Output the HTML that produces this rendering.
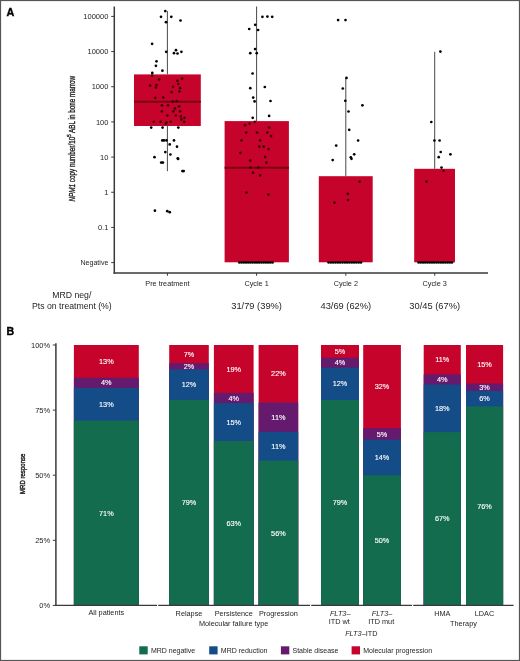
<!DOCTYPE html>
<html><head><meta charset="utf-8"><title>Figure</title>
<style>
html,body{margin:0;padding:0;background:#fff;}
body{width:520px;height:661px;overflow:hidden;position:relative;}
svg{position:absolute;left:0;top:0;display:block;will-change:transform;}
text{font-family:"Liberation Sans", sans-serif;}
</style></head><body>
<svg width="520" height="661" viewBox="0 0 520 661">
<rect x="0" y="0" width="520" height="661" fill="#fff"/>

<text x="6.4" y="15.8" font-size="10.8" font-weight="bold" fill="#000" stroke="#000" stroke-width="0.35">A</text>
<text transform="translate(74.8,201.5) rotate(-90)" font-size="8.8" fill="#1e1e1e" stroke="#1e1e1e" stroke-width="0.35" textLength="125.6" lengthAdjust="spacingAndGlyphs"><tspan font-style="italic">NPM1</tspan> copy number/10<tspan font-size="6" dy="-3.6">5</tspan><tspan dy="3.6"> ABL in bone marrow</tspan></text>
<line x1="111.2" y1="16.40" x2="114.3" y2="16.40" stroke="#3a3a3a" stroke-width="1"/>
<text x="108.4" y="19.10" font-size="7.5" fill="#1e1e1e" text-anchor="end">100000</text>
<line x1="111.2" y1="51.57" x2="114.3" y2="51.57" stroke="#3a3a3a" stroke-width="1"/>
<text x="108.4" y="54.27" font-size="7.5" fill="#1e1e1e" text-anchor="end">10000</text>
<line x1="111.2" y1="86.74" x2="114.3" y2="86.74" stroke="#3a3a3a" stroke-width="1"/>
<text x="108.4" y="89.44" font-size="7.5" fill="#1e1e1e" text-anchor="end">1000</text>
<line x1="111.2" y1="121.91" x2="114.3" y2="121.91" stroke="#3a3a3a" stroke-width="1"/>
<text x="108.4" y="124.61" font-size="7.5" fill="#1e1e1e" text-anchor="end">100</text>
<line x1="111.2" y1="157.08" x2="114.3" y2="157.08" stroke="#3a3a3a" stroke-width="1"/>
<text x="108.4" y="159.78" font-size="7.5" fill="#1e1e1e" text-anchor="end">10</text>
<line x1="111.2" y1="192.25" x2="114.3" y2="192.25" stroke="#3a3a3a" stroke-width="1"/>
<text x="108.4" y="194.95" font-size="7.5" fill="#1e1e1e" text-anchor="end">1</text>
<line x1="111.2" y1="227.42" x2="114.3" y2="227.42" stroke="#3a3a3a" stroke-width="1"/>
<text x="108.4" y="230.12" font-size="7.5" fill="#1e1e1e" text-anchor="end">0.1</text>
<line x1="111.2" y1="262.59" x2="114.3" y2="262.59" stroke="#3a3a3a" stroke-width="1"/>
<text x="108.4" y="265.29" font-size="7.1" fill="#1e1e1e" text-anchor="end">Negative</text>
<line x1="167.4" y1="11.0" x2="167.4" y2="74.4" stroke="#333" stroke-width="0.9"/>
<line x1="167.4" y1="126.0" x2="167.4" y2="171.2" stroke="#333" stroke-width="0.9"/>
<line x1="256.6" y1="6.5" x2="256.6" y2="121.1" stroke="#333" stroke-width="0.9"/>
<line x1="345.8" y1="77.8" x2="345.8" y2="176.2" stroke="#333" stroke-width="0.9"/>
<line x1="434.7" y1="51.8" x2="434.7" y2="168.8" stroke="#333" stroke-width="0.9"/>
<rect x="134.0" y="74.4" width="66.80" height="51.60" fill="#c6042b"/>
<line x1="134.0" y1="101.8" x2="200.8" y2="101.8" stroke="#7a0012" stroke-width="1.9"/>
<rect x="224.6" y="121.1" width="64.30" height="141.20" fill="#c6042b"/>
<line x1="224.6" y1="167.7" x2="288.9" y2="167.7" stroke="#7a0012" stroke-width="1.9"/>
<rect x="318.8" y="176.2" width="53.90" height="86.10" fill="#c6042b"/>
<rect x="414.2" y="168.8" width="40.80" height="93.50" fill="#c6042b"/>
<g fill="#000">
<circle cx="165.3" cy="11.1" r="1.35"/>
<circle cx="161" cy="16.8" r="1.35"/>
<circle cx="171.3" cy="16.8" r="1.35"/>
<circle cx="166" cy="22.2" r="1.35"/>
<circle cx="180.5" cy="20.5" r="1.35"/>
<circle cx="152.1" cy="43.8" r="1.35"/>
<circle cx="166.2" cy="51.8" r="1.35"/>
<circle cx="176" cy="50.2" r="1.35"/>
<circle cx="174" cy="53.2" r="1.35"/>
<circle cx="177.5" cy="53.5" r="1.35"/>
<circle cx="181.4" cy="51.8" r="1.35"/>
<circle cx="156.5" cy="61.3" r="1.35"/>
<circle cx="155.9" cy="65.8" r="1.35"/>
<circle cx="162.4" cy="70.7" r="1.35"/>
<circle cx="152.3" cy="72.9" r="1.35"/>
<circle cx="152.1" cy="75.7" r="1.35" fill="#2a0008" fill-opacity="0.85"/>
<circle cx="159.2" cy="79.4" r="1.35" fill="#2a0008" fill-opacity="0.85"/>
<circle cx="182.1" cy="78.7" r="1.35" fill="#2a0008" fill-opacity="0.85"/>
<circle cx="177.4" cy="80.8" r="1.35" fill="#2a0008" fill-opacity="0.85"/>
<circle cx="178.3" cy="84.1" r="1.35" fill="#2a0008" fill-opacity="0.85"/>
<circle cx="150.1" cy="85.5" r="1.35" fill="#2a0008" fill-opacity="0.85"/>
<circle cx="156.5" cy="85.1" r="1.35" fill="#2a0008" fill-opacity="0.85"/>
<circle cx="155.9" cy="87.5" r="1.35" fill="#2a0008" fill-opacity="0.85"/>
<circle cx="173.1" cy="86.8" r="1.35" fill="#2a0008" fill-opacity="0.85"/>
<circle cx="180.1" cy="88.2" r="1.35" fill="#2a0008" fill-opacity="0.85"/>
<circle cx="179.4" cy="91.5" r="1.35" fill="#2a0008" fill-opacity="0.85"/>
<circle cx="171.6" cy="92.2" r="1.35" fill="#2a0008" fill-opacity="0.85"/>
<circle cx="155.2" cy="97.9" r="1.35" fill="#2a0008" fill-opacity="0.85"/>
<circle cx="163.3" cy="97.6" r="1.35" fill="#2a0008" fill-opacity="0.85"/>
<circle cx="172.7" cy="101.6" r="1.35" fill="#2a0008" fill-opacity="0.85"/>
<circle cx="176.7" cy="101.2" r="1.35" fill="#2a0008" fill-opacity="0.85"/>
<circle cx="161.9" cy="105.3" r="1.35" fill="#2a0008" fill-opacity="0.85"/>
<circle cx="168" cy="105.3" r="1.35" fill="#2a0008" fill-opacity="0.85"/>
<circle cx="179.1" cy="106.3" r="1.35" fill="#2a0008" fill-opacity="0.85"/>
<circle cx="175" cy="108.4" r="1.35" fill="#2a0008" fill-opacity="0.85"/>
<circle cx="161.9" cy="111.3" r="1.35" fill="#2a0008" fill-opacity="0.85"/>
<circle cx="173.4" cy="111.3" r="1.35" fill="#2a0008" fill-opacity="0.85"/>
<circle cx="180.1" cy="111.3" r="1.35" fill="#2a0008" fill-opacity="0.85"/>
<circle cx="167.3" cy="115.5" r="1.35" fill="#2a0008" fill-opacity="0.85"/>
<circle cx="175.8" cy="115.5" r="1.35" fill="#2a0008" fill-opacity="0.85"/>
<circle cx="180.8" cy="116.4" r="1.35" fill="#2a0008" fill-opacity="0.85"/>
<circle cx="184.5" cy="117.8" r="1.35" fill="#2a0008" fill-opacity="0.85"/>
<circle cx="181.4" cy="119.4" r="1.35" fill="#2a0008" fill-opacity="0.85"/>
<circle cx="153.8" cy="121.8" r="1.35" fill="#2a0008" fill-opacity="0.85"/>
<circle cx="160.6" cy="121.8" r="1.35" fill="#2a0008" fill-opacity="0.85"/>
<circle cx="166.6" cy="122.5" r="1.35" fill="#2a0008" fill-opacity="0.85"/>
<circle cx="165.7" cy="123.8" r="1.35" fill="#2a0008" fill-opacity="0.85"/>
<circle cx="170.7" cy="121.8" r="1.35" fill="#2a0008" fill-opacity="0.85"/>
<circle cx="184.1" cy="121.8" r="1.35" fill="#2a0008" fill-opacity="0.85"/>
<circle cx="151.2" cy="127.6" r="1.35"/>
<circle cx="162.6" cy="127.6" r="1.35"/>
<circle cx="178.3" cy="127.6" r="1.35"/>
<circle cx="162.3" cy="140.4" r="1.35"/>
<circle cx="163.9" cy="140.4" r="1.35"/>
<circle cx="166.4" cy="140.4" r="1.35"/>
<circle cx="174" cy="140.4" r="1.35"/>
<circle cx="169.7" cy="144.4" r="1.35"/>
<circle cx="177" cy="146.7" r="1.35"/>
<circle cx="165.3" cy="152.1" r="1.35"/>
<circle cx="170.4" cy="154.5" r="1.35"/>
<circle cx="154.5" cy="157.2" r="1.35"/>
<circle cx="177.8" cy="158.3" r="1.35"/>
<circle cx="178.1" cy="159" r="1.35"/>
<circle cx="161.2" cy="162.6" r="1.35"/>
<circle cx="162.9" cy="162.6" r="1.35"/>
<circle cx="182.4" cy="171.1" r="1.35"/>
<circle cx="183.7" cy="171.1" r="1.35"/>
<circle cx="154.9" cy="210.7" r="1.35"/>
<circle cx="167.3" cy="211.2" r="1.35"/>
<circle cx="169.7" cy="212.2" r="1.35"/>
<circle cx="262.4" cy="16.8" r="1.35"/>
<circle cx="267.4" cy="16.6" r="1.35"/>
<circle cx="272.2" cy="16.8" r="1.35"/>
<circle cx="255.2" cy="24.8" r="1.35"/>
<circle cx="249.2" cy="29" r="1.35"/>
<circle cx="258.1" cy="30" r="1.35"/>
<circle cx="255.1" cy="49.1" r="1.35"/>
<circle cx="250.3" cy="53.2" r="1.35"/>
<circle cx="256.7" cy="53.2" r="1.35"/>
<circle cx="252.6" cy="73.5" r="1.35"/>
<circle cx="250.3" cy="88.2" r="1.35"/>
<circle cx="264.8" cy="87" r="1.35"/>
<circle cx="253.2" cy="97.6" r="1.35"/>
<circle cx="254.6" cy="101.4" r="1.35"/>
<circle cx="270.5" cy="101" r="1.35"/>
<circle cx="252.7" cy="117.8" r="1.35"/>
<circle cx="269.1" cy="115.9" r="1.35"/>
<circle cx="254.8" cy="121.8" r="1.35" fill="#2a0008" fill-opacity="0.85"/>
<circle cx="249.6" cy="123.6" r="1.35" fill="#2a0008" fill-opacity="0.85"/>
<circle cx="245.1" cy="125.2" r="1.35" fill="#2a0008" fill-opacity="0.85"/>
<circle cx="269.1" cy="127.6" r="1.35" fill="#2a0008" fill-opacity="0.85"/>
<circle cx="246.2" cy="132.6" r="1.35" fill="#2a0008" fill-opacity="0.85"/>
<circle cx="257" cy="132.6" r="1.35" fill="#2a0008" fill-opacity="0.85"/>
<circle cx="267.4" cy="132.6" r="1.35" fill="#2a0008" fill-opacity="0.85"/>
<circle cx="271.1" cy="136.1" r="1.35" fill="#2a0008" fill-opacity="0.85"/>
<circle cx="241.5" cy="140.4" r="1.35" fill="#2a0008" fill-opacity="0.85"/>
<circle cx="260.1" cy="140.4" r="1.35" fill="#2a0008" fill-opacity="0.85"/>
<circle cx="259.3" cy="146.7" r="1.35" fill="#2a0008" fill-opacity="0.85"/>
<circle cx="263.7" cy="146.7" r="1.35" fill="#2a0008" fill-opacity="0.85"/>
<circle cx="268.4" cy="149.1" r="1.35" fill="#2a0008" fill-opacity="0.85"/>
<circle cx="240.4" cy="152.9" r="1.35" fill="#2a0008" fill-opacity="0.85"/>
<circle cx="265.1" cy="156.9" r="1.35" fill="#2a0008" fill-opacity="0.85"/>
<circle cx="250.3" cy="160.6" r="1.35" fill="#2a0008" fill-opacity="0.85"/>
<circle cx="266.4" cy="162.6" r="1.35" fill="#2a0008" fill-opacity="0.85"/>
<circle cx="250.5" cy="167.6" r="1.35" fill="#2a0008" fill-opacity="0.85"/>
<circle cx="258.3" cy="167.6" r="1.35" fill="#2a0008" fill-opacity="0.85"/>
<circle cx="253" cy="172.7" r="1.35" fill="#2a0008" fill-opacity="0.85"/>
<circle cx="260.1" cy="175.4" r="1.35" fill="#2a0008" fill-opacity="0.85"/>
<circle cx="246.5" cy="192.5" r="1.35" fill="#2a0008" fill-opacity="0.85"/>
<circle cx="268.4" cy="194.6" r="1.35" fill="#2a0008" fill-opacity="0.85"/>
<circle cx="338.1" cy="20.1" r="1.35"/>
<circle cx="345.5" cy="20.1" r="1.35"/>
<circle cx="346.5" cy="77.9" r="1.35"/>
<circle cx="342.8" cy="88.5" r="1.35"/>
<circle cx="345.3" cy="100.8" r="1.35"/>
<circle cx="362.4" cy="105.3" r="1.35"/>
<circle cx="348.5" cy="111.5" r="1.35"/>
<circle cx="349.2" cy="129.8" r="1.35"/>
<circle cx="358.1" cy="140.5" r="1.35"/>
<circle cx="336.2" cy="145.6" r="1.35"/>
<circle cx="354.2" cy="154.3" r="1.35"/>
<circle cx="350.8" cy="157.3" r="1.35"/>
<circle cx="351.5" cy="158.8" r="1.35"/>
<circle cx="332.7" cy="160.1" r="1.35"/>
<circle cx="359.6" cy="181.6" r="1.35" fill="#2a0008" fill-opacity="0.85"/>
<circle cx="347.8" cy="193.9" r="1.35" fill="#2a0008" fill-opacity="0.85"/>
<circle cx="348.1" cy="200.1" r="1.35" fill="#2a0008" fill-opacity="0.85"/>
<circle cx="334.5" cy="202.7" r="1.35" fill="#2a0008" fill-opacity="0.85"/>
<circle cx="440.4" cy="51.6" r="1.35"/>
<circle cx="431.3" cy="122" r="1.35"/>
<circle cx="434.4" cy="140.5" r="1.35"/>
<circle cx="439.6" cy="140.5" r="1.35"/>
<circle cx="440.7" cy="152" r="1.35"/>
<circle cx="450.4" cy="154.3" r="1.35"/>
<circle cx="438.7" cy="157.2" r="1.35"/>
<circle cx="441.5" cy="167.6" r="1.35"/>
<circle cx="443.5" cy="170.8" r="1.35" fill="#2a0008" fill-opacity="0.85"/>
<circle cx="426.5" cy="181.5" r="1.35" fill="#2a0008" fill-opacity="0.85"/>
<circle cx="239.4" cy="262.5" r="1.35"/>
<circle cx="241.60666666666668" cy="262.5" r="1.35"/>
<circle cx="243.81333333333333" cy="262.5" r="1.35"/>
<circle cx="246.02" cy="262.5" r="1.35"/>
<circle cx="248.22666666666666" cy="262.5" r="1.35"/>
<circle cx="250.43333333333334" cy="262.5" r="1.35"/>
<circle cx="252.64000000000001" cy="262.5" r="1.35"/>
<circle cx="254.84666666666666" cy="262.5" r="1.35"/>
<circle cx="257.05333333333334" cy="262.5" r="1.35"/>
<circle cx="259.26" cy="262.5" r="1.35"/>
<circle cx="261.4666666666667" cy="262.5" r="1.35"/>
<circle cx="263.67333333333335" cy="262.5" r="1.35"/>
<circle cx="265.88" cy="262.5" r="1.35"/>
<circle cx="268.08666666666664" cy="262.5" r="1.35"/>
<circle cx="270.29333333333335" cy="262.5" r="1.35"/>
<circle cx="272.5" cy="262.5" r="1.35"/>
<circle cx="328.6" cy="262.5" r="1.35"/>
<circle cx="330.9142857142857" cy="262.5" r="1.35"/>
<circle cx="333.22857142857146" cy="262.5" r="1.35"/>
<circle cx="335.54285714285714" cy="262.5" r="1.35"/>
<circle cx="337.8571428571429" cy="262.5" r="1.35"/>
<circle cx="340.1714285714286" cy="262.5" r="1.35"/>
<circle cx="342.4857142857143" cy="262.5" r="1.35"/>
<circle cx="344.8" cy="262.5" r="1.35"/>
<circle cx="347.1142857142857" cy="262.5" r="1.35"/>
<circle cx="349.42857142857144" cy="262.5" r="1.35"/>
<circle cx="351.74285714285713" cy="262.5" r="1.35"/>
<circle cx="354.0571428571429" cy="262.5" r="1.35"/>
<circle cx="356.37142857142857" cy="262.5" r="1.35"/>
<circle cx="358.6857142857143" cy="262.5" r="1.35"/>
<circle cx="361.0" cy="262.5" r="1.35"/>
<circle cx="418.6" cy="262.5" r="1.35"/>
<circle cx="420.8266666666667" cy="262.5" r="1.35"/>
<circle cx="423.05333333333334" cy="262.5" r="1.35"/>
<circle cx="425.28000000000003" cy="262.5" r="1.35"/>
<circle cx="427.50666666666666" cy="262.5" r="1.35"/>
<circle cx="429.73333333333335" cy="262.5" r="1.35"/>
<circle cx="431.96000000000004" cy="262.5" r="1.35"/>
<circle cx="434.18666666666667" cy="262.5" r="1.35"/>
<circle cx="436.41333333333336" cy="262.5" r="1.35"/>
<circle cx="438.64" cy="262.5" r="1.35"/>
<circle cx="440.8666666666667" cy="262.5" r="1.35"/>
<circle cx="443.09333333333336" cy="262.5" r="1.35"/>
<circle cx="445.32" cy="262.5" r="1.35"/>
<circle cx="447.5466666666667" cy="262.5" r="1.35"/>
<circle cx="449.7733333333333" cy="262.5" r="1.35"/>
<circle cx="452.0" cy="262.5" r="1.35"/>
</g>
<line x1="114.3" y1="6.4" x2="114.3" y2="273.8" stroke="#3a3a3a" stroke-width="1.5"/>
<line x1="113.6" y1="273.0" x2="488" y2="273.0" stroke="#3a3a3a" stroke-width="1.5"/>
<line x1="167.4" y1="273.0" x2="167.4" y2="275.8" stroke="#3a3a3a" stroke-width="1"/>
<text x="167.4" y="285.8" font-size="7.3" fill="#1e1e1e" text-anchor="middle">Pre treatment</text>
<line x1="256.6" y1="273.0" x2="256.6" y2="275.8" stroke="#3a3a3a" stroke-width="1"/>
<text x="256.6" y="285.8" font-size="7.3" fill="#1e1e1e" text-anchor="middle">Cycle 1</text>
<line x1="345.8" y1="273.0" x2="345.8" y2="275.8" stroke="#3a3a3a" stroke-width="1"/>
<text x="345.8" y="285.8" font-size="7.3" fill="#1e1e1e" text-anchor="middle">Cycle 2</text>
<line x1="434.7" y1="273.0" x2="434.7" y2="275.8" stroke="#3a3a3a" stroke-width="1"/>
<text x="434.7" y="285.8" font-size="7.3" fill="#1e1e1e" text-anchor="middle">Cycle 3</text>
<text x="71.8" y="298.2" font-size="8.7" fill="#1e1e1e" text-anchor="middle">MRD neg/</text>
<text x="71.9" y="309.2" font-size="8.7" fill="#1e1e1e" text-anchor="middle">Pts on treatment (%)</text>
<text x="256.6" y="309.0" font-size="9.3" fill="#1e1e1e" text-anchor="middle">31/79 (39%)</text>
<text x="345.8" y="309.0" font-size="9.3" fill="#1e1e1e" text-anchor="middle">43/69 (62%)</text>
<text x="434.7" y="309.0" font-size="9.3" fill="#1e1e1e" text-anchor="middle">30/45 (67%)</text>
<text x="6.6" y="334.9" font-size="10.6" font-weight="bold" fill="#000" stroke="#000" stroke-width="0.35">B</text>
<line x1="55.9" y1="343.2" x2="55.9" y2="606" stroke="#3a3a3a" stroke-width="1.5"/>
<line x1="52.8" y1="345.00" x2="55.9" y2="345.00" stroke="#3a3a3a" stroke-width="1"/>
<text x="50.2" y="347.60" font-size="7.5" fill="#1e1e1e" text-anchor="end">100%</text>
<line x1="52.8" y1="410.10" x2="55.9" y2="410.10" stroke="#3a3a3a" stroke-width="1"/>
<text x="50.2" y="412.70" font-size="7.5" fill="#1e1e1e" text-anchor="end">75%</text>
<line x1="52.8" y1="475.20" x2="55.9" y2="475.20" stroke="#3a3a3a" stroke-width="1"/>
<text x="50.2" y="477.80" font-size="7.5" fill="#1e1e1e" text-anchor="end">50%</text>
<line x1="52.8" y1="540.30" x2="55.9" y2="540.30" stroke="#3a3a3a" stroke-width="1"/>
<text x="50.2" y="542.90" font-size="7.5" fill="#1e1e1e" text-anchor="end">25%</text>
<line x1="52.8" y1="605.40" x2="55.9" y2="605.40" stroke="#3a3a3a" stroke-width="1"/>
<text x="50.2" y="608.00" font-size="7.5" fill="#1e1e1e" text-anchor="end">0%</text>
<text transform="translate(25.2,494) rotate(-90)" font-size="7.9" fill="#1e1e1e" stroke="#1e1e1e" stroke-width="0.4" textLength="40.4" lengthAdjust="spacingAndGlyphs">MRD response</text>
<rect x="73.9" y="345.00" width="64.90" height="260.40" fill="#c6042b"/>
<rect x="73.9" y="377.70" width="64.90" height="227.70" fill="#661a6e"/>
<rect x="73.9" y="387.90" width="64.90" height="217.50" fill="#134c87"/>
<rect x="73.9" y="420.60" width="64.90" height="184.80" fill="#146c4f"/>
<text x="106.35" y="363.95" font-size="7.3" fill="#fff" stroke="#fff" stroke-width="0.12" text-anchor="middle">13%</text>
<text x="106.35" y="385.40" font-size="7.3" fill="#fff" stroke="#fff" stroke-width="0.12" text-anchor="middle">4%</text>
<text x="106.35" y="406.85" font-size="7.3" fill="#fff" stroke="#fff" stroke-width="0.12" text-anchor="middle">13%</text>
<text x="106.35" y="515.60" font-size="7.3" fill="#fff" stroke="#fff" stroke-width="0.12" text-anchor="middle">71%</text>
<rect x="169.2" y="345.00" width="39.60" height="260.40" fill="#c6042b"/>
<rect x="169.2" y="363.10" width="39.60" height="242.30" fill="#661a6e"/>
<rect x="169.2" y="369.40" width="39.60" height="236.00" fill="#134c87"/>
<rect x="169.2" y="399.80" width="39.60" height="205.60" fill="#146c4f"/>
<text x="189.00" y="356.65" font-size="7.3" fill="#fff" stroke="#fff" stroke-width="0.12" text-anchor="middle">7%</text>
<text x="189.00" y="368.85" font-size="7.3" fill="#fff" stroke="#fff" stroke-width="0.12" text-anchor="middle">2%</text>
<text x="189.00" y="387.20" font-size="7.3" fill="#fff" stroke="#fff" stroke-width="0.12" text-anchor="middle">12%</text>
<text x="189.00" y="505.20" font-size="7.3" fill="#fff" stroke="#fff" stroke-width="0.12" text-anchor="middle">79%</text>
<rect x="213.9" y="345.00" width="39.70" height="260.40" fill="#c6042b"/>
<rect x="213.9" y="392.90" width="39.70" height="212.50" fill="#661a6e"/>
<rect x="213.9" y="403.10" width="39.70" height="202.30" fill="#134c87"/>
<rect x="213.9" y="441.00" width="39.70" height="164.40" fill="#146c4f"/>
<text x="233.75" y="371.55" font-size="7.3" fill="#fff" stroke="#fff" stroke-width="0.12" text-anchor="middle">19%</text>
<text x="233.75" y="400.60" font-size="7.3" fill="#fff" stroke="#fff" stroke-width="0.12" text-anchor="middle">4%</text>
<text x="233.75" y="424.65" font-size="7.3" fill="#fff" stroke="#fff" stroke-width="0.12" text-anchor="middle">15%</text>
<text x="233.75" y="525.80" font-size="7.3" fill="#fff" stroke="#fff" stroke-width="0.12" text-anchor="middle">63%</text>
<rect x="258.6" y="345.00" width="39.60" height="260.40" fill="#c6042b"/>
<rect x="258.6" y="402.50" width="39.60" height="202.90" fill="#661a6e"/>
<rect x="258.6" y="431.80" width="39.60" height="173.60" fill="#134c87"/>
<rect x="258.6" y="460.60" width="39.60" height="144.80" fill="#146c4f"/>
<text x="278.40" y="376.35" font-size="7.3" fill="#fff" stroke="#fff" stroke-width="0.12" text-anchor="middle">22%</text>
<text x="278.40" y="419.75" font-size="7.3" fill="#fff" stroke="#fff" stroke-width="0.12" text-anchor="middle">11%</text>
<text x="278.40" y="448.80" font-size="7.3" fill="#fff" stroke="#fff" stroke-width="0.12" text-anchor="middle">11%</text>
<text x="278.40" y="535.60" font-size="7.3" fill="#fff" stroke="#fff" stroke-width="0.12" text-anchor="middle">56%</text>
<rect x="321.0" y="345.00" width="38.00" height="260.40" fill="#c6042b"/>
<rect x="321.0" y="357.70" width="38.00" height="247.70" fill="#661a6e"/>
<rect x="321.0" y="367.70" width="38.00" height="237.70" fill="#134c87"/>
<rect x="321.0" y="400.00" width="38.00" height="205.40" fill="#146c4f"/>
<text x="340.00" y="353.95" font-size="7.3" fill="#fff" stroke="#fff" stroke-width="0.12" text-anchor="middle">5%</text>
<text x="340.00" y="365.30" font-size="7.3" fill="#fff" stroke="#fff" stroke-width="0.12" text-anchor="middle">4%</text>
<text x="340.00" y="386.45" font-size="7.3" fill="#fff" stroke="#fff" stroke-width="0.12" text-anchor="middle">12%</text>
<text x="340.00" y="505.30" font-size="7.3" fill="#fff" stroke="#fff" stroke-width="0.12" text-anchor="middle">79%</text>
<rect x="363.2" y="345.00" width="37.70" height="260.40" fill="#c6042b"/>
<rect x="363.2" y="428.20" width="37.70" height="177.20" fill="#661a6e"/>
<rect x="363.2" y="439.60" width="37.70" height="165.80" fill="#134c87"/>
<rect x="363.2" y="475.30" width="37.70" height="130.10" fill="#146c4f"/>
<text x="382.05" y="389.20" font-size="7.3" fill="#fff" stroke="#fff" stroke-width="0.12" text-anchor="middle">32%</text>
<text x="382.05" y="436.50" font-size="7.3" fill="#fff" stroke="#fff" stroke-width="0.12" text-anchor="middle">5%</text>
<text x="382.05" y="460.05" font-size="7.3" fill="#fff" stroke="#fff" stroke-width="0.12" text-anchor="middle">14%</text>
<text x="382.05" y="542.95" font-size="7.3" fill="#fff" stroke="#fff" stroke-width="0.12" text-anchor="middle">50%</text>
<rect x="423.7" y="345.00" width="37.10" height="260.40" fill="#c6042b"/>
<rect x="423.7" y="374.40" width="37.10" height="231.00" fill="#661a6e"/>
<rect x="423.7" y="384.60" width="37.10" height="220.80" fill="#134c87"/>
<rect x="423.7" y="432.10" width="37.10" height="173.30" fill="#146c4f"/>
<text x="442.25" y="362.30" font-size="7.3" fill="#fff" stroke="#fff" stroke-width="0.12" text-anchor="middle">11%</text>
<text x="442.25" y="382.10" font-size="7.3" fill="#fff" stroke="#fff" stroke-width="0.12" text-anchor="middle">4%</text>
<text x="442.25" y="410.95" font-size="7.3" fill="#fff" stroke="#fff" stroke-width="0.12" text-anchor="middle">18%</text>
<text x="442.25" y="521.35" font-size="7.3" fill="#fff" stroke="#fff" stroke-width="0.12" text-anchor="middle">67%</text>
<rect x="466.0" y="345.00" width="37.10" height="260.40" fill="#c6042b"/>
<rect x="466.0" y="383.50" width="37.10" height="221.90" fill="#661a6e"/>
<rect x="466.0" y="390.80" width="37.10" height="214.60" fill="#134c87"/>
<rect x="466.0" y="406.40" width="37.10" height="199.00" fill="#146c4f"/>
<text x="484.55" y="366.85" font-size="7.3" fill="#fff" stroke="#fff" stroke-width="0.12" text-anchor="middle">15%</text>
<text x="484.55" y="389.75" font-size="7.3" fill="#fff" stroke="#fff" stroke-width="0.12" text-anchor="middle">3%</text>
<text x="484.55" y="401.20" font-size="7.3" fill="#fff" stroke="#fff" stroke-width="0.12" text-anchor="middle">6%</text>
<text x="484.55" y="508.50" font-size="7.3" fill="#fff" stroke="#fff" stroke-width="0.12" text-anchor="middle">76%</text>
<line x1="55.2" y1="605.3" x2="157.0" y2="605.3" stroke="#3a3a3a" stroke-width="1.3"/>
<line x1="158.2" y1="605.3" x2="310.0" y2="605.3" stroke="#3a3a3a" stroke-width="1.3"/>
<line x1="311.2" y1="605.3" x2="412.0" y2="605.3" stroke="#3a3a3a" stroke-width="1.3"/>
<line x1="413.2" y1="605.3" x2="513.6" y2="605.3" stroke="#3a3a3a" stroke-width="1.3"/>
<text x="106.3" y="615.4" font-size="7.3" fill="#1e1e1e" text-anchor="middle" >All patients</text>
<text x="189.0" y="615.6" font-size="7.3" fill="#1e1e1e" text-anchor="middle" >Relapse</text>
<text x="233.7" y="615.6" font-size="7.3" fill="#1e1e1e" text-anchor="middle" >Persistence</text>
<text x="278.4" y="615.6" font-size="7.3" fill="#1e1e1e" text-anchor="middle" >Progression</text>
<text x="233.6" y="626.3" font-size="7.3" fill="#1e1e1e" text-anchor="middle" >Molecular failure type</text>
<text x="340.2" y="615.6" font-size="7.3" fill="#1e1e1e" text-anchor="middle"><tspan font-style="italic">FLT3</tspan>–</text>
<text x="382.1" y="615.6" font-size="7.3" fill="#1e1e1e" text-anchor="middle"><tspan font-style="italic">FLT3</tspan>–</text>
<text x="339.2" y="623.8" font-size="7.3" fill="#1e1e1e" text-anchor="middle" >ITD wt</text>
<text x="381.2" y="623.8" font-size="7.3" fill="#1e1e1e" text-anchor="middle" >ITD mut</text>
<text x="361.3" y="635.6" font-size="7.3" fill="#1e1e1e" text-anchor="middle"><tspan font-style="italic">FLT3</tspan>–ITD</text>
<text x="442.3" y="615.6" font-size="7.3" fill="#1e1e1e" text-anchor="middle" >HMA</text>
<text x="484.5" y="615.6" font-size="7.3" fill="#1e1e1e" text-anchor="middle" >LDAC</text>
<text x="463.5" y="626.3" font-size="7.3" fill="#1e1e1e" text-anchor="middle" >Therapy</text>
<rect x="139.3" y="646.3" width="8.4" height="8.1" fill="#146c4f"/>
<text x="150.9" y="652.6" font-size="7.0" fill="#1e1e1e" text-anchor="start" >MRD negative</text>
<rect x="209.2" y="646.3" width="8.4" height="8.1" fill="#134c87"/>
<text x="220.79999999999998" y="652.6" font-size="7.0" fill="#1e1e1e" text-anchor="start" >MRD reduction</text>
<rect x="280.9" y="646.3" width="8.4" height="8.1" fill="#661a6e"/>
<text x="292.5" y="652.6" font-size="7.0" fill="#1e1e1e" text-anchor="start" >Stable disease</text>
<rect x="351.6" y="646.3" width="8.4" height="8.1" fill="#c6042b"/>
<text x="363.20000000000005" y="652.6" font-size="7.0" fill="#1e1e1e" text-anchor="start" >Molecular progression</text>
<rect x="0.5" y="0.5" width="519" height="660" fill="none" stroke="#555" stroke-width="1.2"/>
</svg>
</body></html>
